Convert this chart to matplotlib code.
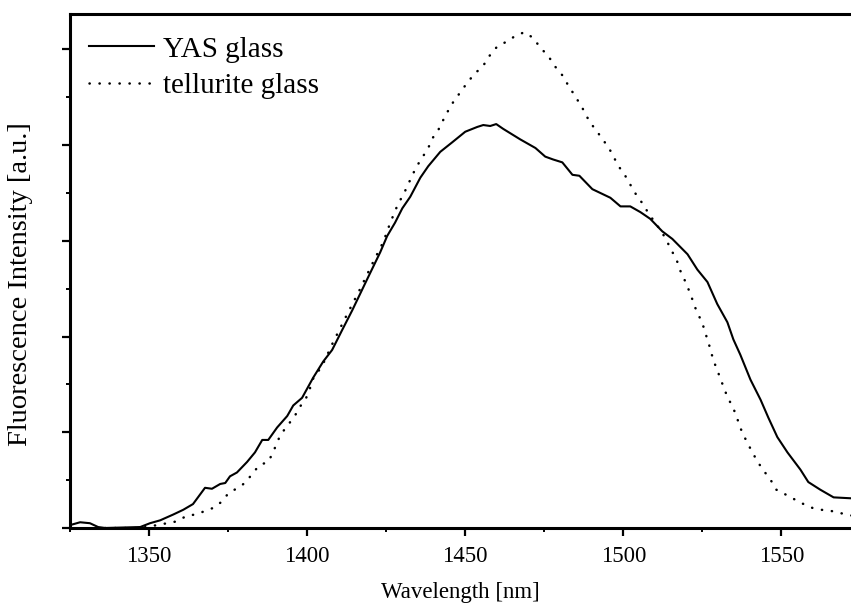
import numpy as np
import matplotlib
matplotlib.use("Agg")
import matplotlib.pyplot as plt
from matplotlib.ticker import MultipleLocator, NullFormatter

plt.rcParams['font.family'] = ['Liberation Serif', 'DejaVu Serif']

# YAS glass spectrum (wavelength [nm], intensity [a.u.])
yas_nm = [1325.0, 1328.2, 1331.3, 1333.9, 1336.1, 1347.2, 1350.3, 1353.5, 1357.6, 1360.8,
          1363.9, 1367.7, 1369.9, 1372.5, 1374.1, 1375.6, 1377.8, 1381.0, 1383.5, 1385.8,
          1387.7, 1390.5, 1393.7, 1395.6, 1398.4, 1401.9, 1405.1, 1407.9, 1411.1, 1414.2,
          1418.7, 1423.1, 1425.3, 1427.8, 1430.1, 1432.6, 1435.8, 1438.3, 1442.1, 1445.9,
          1450.0, 1453.8, 1455.7, 1457.9, 1459.8, 1462.0, 1467.4, 1472.2, 1475.3, 1477.8,
          1480.7, 1483.9, 1486.1, 1490.2, 1495.9, 1499.1, 1502.2, 1505.4, 1508.5, 1512.3,
          1515.5, 1520.3, 1523.4, 1526.6, 1529.7, 1532.9, 1534.8, 1537.0, 1540.2, 1543.4,
          1545.9, 1548.7, 1551.9, 1556.0, 1558.5, 1562.3, 1566.5, 1572.2]
yas_int = [0.03, 0.06, 0.05, 0.01, 0.00, 0.01, 0.05, 0.08, 0.14, 0.19,
           0.25, 0.42, 0.41, 0.46, 0.47, 0.54, 0.58, 0.69, 0.79, 0.92,
           0.92, 1.05, 1.17, 1.28, 1.36, 1.57, 1.74, 1.86, 2.07, 2.27,
           2.58, 2.88, 3.05, 3.19, 3.34, 3.46, 3.66, 3.78, 3.93, 4.03,
           4.14, 4.19, 4.21, 4.20, 4.22, 4.17, 4.06, 3.97, 3.88, 3.85,
           3.82, 3.69, 3.68, 3.54, 3.45, 3.36, 3.36, 3.30, 3.23, 3.10,
           3.02, 2.86, 2.70, 2.57, 2.34, 2.15, 1.97, 1.81, 1.55, 1.34,
           1.15, 0.95, 0.79, 0.61, 0.48, 0.40, 0.32, 0.31]

# tellurite glass spectrum
tel_nm = [1336.1, 1347.2, 1352.5, 1355.7, 1358.9, 1362.0, 1364.6, 1367.1, 1370.3, 1372.8,
          1375.3, 1378.2, 1380.7, 1382.9, 1385.1, 1387.7, 1389.2, 1391.5, 1394.0, 1395.9,
          1397.8, 1399.7, 1400.9, 1401.9, 1403.8, 1405.4, 1408.2, 1412.3, 1416.8, 1420.6,
          1424.1, 1426.3, 1428.8, 1430.4, 1433.2, 1434.5, 1436.4, 1438.3, 1439.6, 1441.5,
          1443.0, 1444.6, 1446.2, 1448.4, 1450.6, 1452.8, 1455.7, 1457.6, 1460.1, 1463.0,
          1465.8, 1468.7, 1471.5, 1473.7, 1476.3, 1478.2, 1480.7, 1482.3, 1484.2, 1486.1,
          1487.7, 1489.2, 1491.5, 1493.7, 1495.6, 1497.2, 1498.7, 1500.6, 1502.5, 1504.1,
          1506.3, 1507.9, 1512.0, 1513.6, 1515.2, 1516.8, 1517.7, 1519.0, 1520.3, 1521.5,
          1522.5, 1523.7, 1525.0, 1525.9, 1526.9, 1528.5, 1529.7, 1530.7, 1532.9, 1534.5,
          1535.8, 1536.7, 1538.0, 1540.8, 1542.7, 1544.6, 1546.8, 1548.4, 1551.3, 1554.1,
          1557.0, 1559.8, 1562.7, 1565.5, 1568.0, 1570.9, 1572.2]
tel_int = [0.00, 0.00, 0.03, 0.05, 0.07, 0.13, 0.14, 0.17, 0.21, 0.27,
           0.37, 0.42, 0.48, 0.58, 0.66, 0.69, 0.79, 0.97, 1.08, 1.16,
           1.27, 1.36, 1.46, 1.56, 1.65, 1.74, 1.94, 2.21, 2.50, 2.76,
           2.99, 3.19, 3.39, 3.48, 3.68, 3.77, 3.87, 3.97, 4.07, 4.16,
           4.26, 4.36, 4.45, 4.55, 4.65, 4.74, 4.83, 4.93, 5.03, 5.08,
           5.14, 5.18, 5.12, 5.02, 4.93, 4.83, 4.73, 4.64, 4.54, 4.44,
           4.35, 4.25, 4.15, 4.05, 3.96, 3.86, 3.77, 3.68, 3.57, 3.48,
           3.38, 3.29, 3.10, 3.01, 2.90, 2.81, 2.71, 2.62, 2.52, 2.42,
           2.32, 2.23, 2.14, 2.04, 1.94, 1.75, 1.65, 1.56, 1.37, 1.27,
           1.17, 1.07, 0.97, 0.79, 0.68, 0.59, 0.49, 0.40, 0.35, 0.30,
           0.25, 0.21, 0.19, 0.18, 0.16, 0.14, 0.13]

x_ticks = [1350, 1400, 1450, 1500, 1550]

fig = plt.figure(figsize=(8.51, 6.09), dpi=100)
ax = fig.add_axes([70 / 851, 81 / 609, 781 / 851, 514 / 609])

ax.plot(yas_nm, yas_int, color='black', lw=1.5, label='YAS glass')
ax.plot(tel_nm, tel_int, color='black', lw=1.8, ls=(0, (0.1, 3.9)),
        dash_capstyle='round', label='tellurite glass')

ax.set_xlim(1325, 1572)
ax.set_ylim(0, 5.37)

ax.set_xticks(x_ticks)
ax.xaxis.set_minor_locator(MultipleLocator(25))
ax.yaxis.set_major_locator(MultipleLocator(1))
ax.yaxis.set_minor_locator(MultipleLocator(0.5))
ax.yaxis.set_major_formatter(NullFormatter())

ax.tick_params(which='major', direction='out', length=6, width=1.6, labelsize=16.5)
ax.tick_params(which='minor', direction='out', length=3, width=1.4)
ax.tick_params(axis='x', pad=7)

for side in ['left', 'bottom', 'top']:
    ax.spines[side].set_linewidth(2.2)
ax.spines['right'].set_visible(False)

ax.set_xlabel('Wavelength [nm]', fontsize=16.5, labelpad=11)
ax.set_ylabel('Fluorescence Intensity [a.u.]', fontsize=20.5)
ax.yaxis.set_label_coords(-0.047, 0.475)

ax.legend(loc='upper left', bbox_to_anchor=(0.024, 0.957), frameon=False,
          fontsize=21, handlelength=2.23, handletextpad=0.31, labelspacing=0.36,
          borderpad=0, borderaxespad=0)

fig.savefig('out.png', dpi=100)
